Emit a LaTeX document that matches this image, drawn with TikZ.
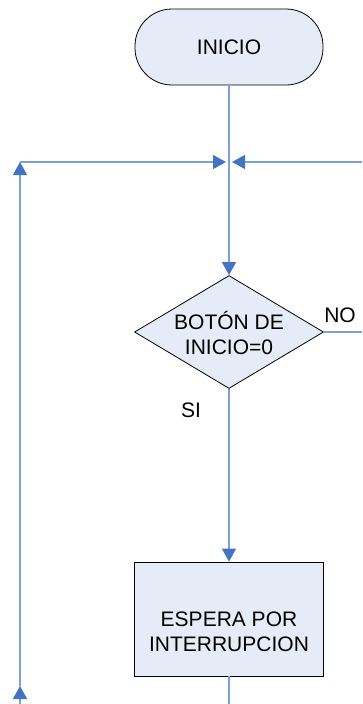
\documentclass[tikz,border=0pt]{standalone}
\usepackage{fontspec}
\setmainfont{Liberation Sans}
\usetikzlibrary{arrows.meta,shapes.geometric}
\definecolor{shapefill}{RGB}{230,236,247}
\definecolor{linecol}{RGB}{125,160,218}
\definecolor{tipcol}{RGB}{68,114,196}
\begin{document}
\begin{tikzpicture}[x=1pt,y=-1pt,
  shapebox/.style={draw=black,line width=0.8pt,fill=shapefill,inner sep=0pt},
  txt/.style={font=\fontsize{21}{25}\selectfont,align=center,inner sep=0pt},
  conn/.style={draw=linecol,line width=1.3pt},
  arr/.style={conn,-{Triangle[length=13pt,width=14pt,color=tipcol]}}]
\useasboundingbox (0,0) rectangle (362,704);
% shapes
\node[shapebox,rounded corners=37pt,minimum width=188pt,minimum height=76pt] (inicio) at (229,47) {};
\node[txt] (inicioTxt) at (229,47) {INICIO};
\node[shapebox,diamond,minimum width=189pt,minimum height=113pt,aspect=1.67] (dec) at (229,332) {};
\node[txt] (decTxt) at (229,333) {BOTÓN DE\\INICIO=0};
\node[shapebox,minimum width=189pt,minimum height=114pt] (espera) at (229,619) {};
\node[txt] (esperaTxt) at (229,632) {ESPERA POR\\INTERRUPCION};
\node[txt] (no) at (340,315) {NO};
\node[txt] (si) at (191,410) {SI};
% coordinates
\coordinate (jl) at (226,162);
\coordinate (jr) at (232,162);
\coordinate (lc) at (20,162);
\coordinate (lm) at (20,686);
\coordinate (lb) at (20,704);
\coordinate (re) at (362,162);
\coordinate (ne) at (362,332);
\coordinate (eb) at (229,704);
% connectors
\draw[arr] (inicio.south) -- (dec.north);
\draw[arr] (lc) -- (jl);
\draw[arr] (re) -- (jr);
\draw[arr] (lm) -- (lc);
\draw[arr] (lb) -- (lm);
\draw[conn] (dec.east) -- (ne);
\draw[arr] (dec.south) -- (espera.north);
\draw[conn] (espera.south) -- (eb);
\end{tikzpicture}
\end{document}
